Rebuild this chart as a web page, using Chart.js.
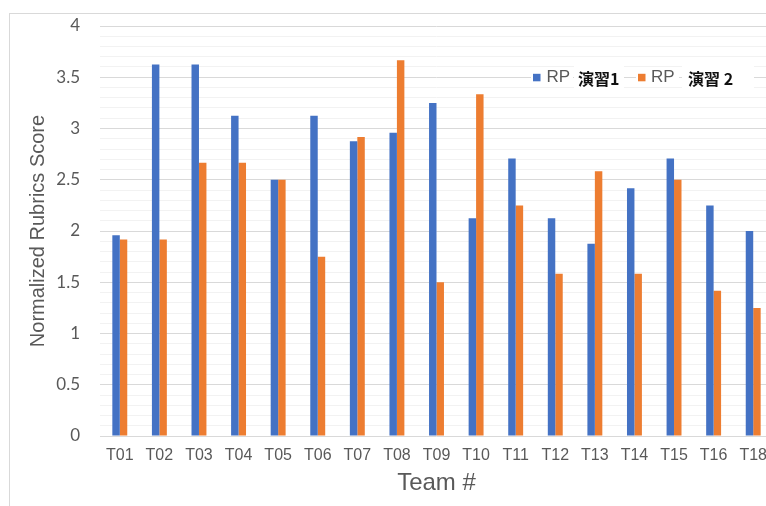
<!DOCTYPE html>
<html><head><meta charset="utf-8">
<script src="https://cdn.jsdelivr.net/npm/chart.js@4/dist/chart.umd.min.js"></script>
<style>
html,body{margin:0;padding:0;background:#fff;overflow:hidden;width:766px;height:506px;}
#frame{position:absolute;left:9px;top:13px;border-left:1px solid #d9d9d9;border-top:1px solid #d9d9d9;width:800px;height:520px;background:#fff;}
canvas{display:block;}
</style></head><body>
<div id="frame"><canvas id="c" width="767" height="510"></canvas></div>
<script>
// ---- data ----
const categories = ['T01','T02','T03','T04','T05','T06','T07','T08','T09','T10','T11','T12','T13','T14','T15','T16','T18'];
const seriesLabels = ['RP 演習1', 'RP 演習 2'];
const exercise1 = [1.958, 3.625, 3.625, 3.125, 2.5, 3.125, 2.875, 2.958, 3.25, 2.125, 2.708, 2.125, 1.875, 2.417, 2.708, 2.25, 2.0];
const exercise2 = [1.917, 1.917, 2.667, 2.667, 2.5, 1.75, 2.917, 3.667, 1.5, 3.333, 2.25, 1.583, 2.583, 1.583, 2.5, 1.417, 1.25];
const yTickLabels = ['0','0.5','1','1.5','2','2.5','3','3.5','4'];
const xTitle = 'Team #';
const yTitle = 'Normalized Rubrics Score';

const colors = ['#4472C4', '#ED7D31'];
const majorLabel = v => yTickLabels.find(l => Math.abs(parseFloat(l) - v) < 1e-6);

const splitLegend = {
  id: 'splitLegend',
  afterDraw(chart) {
    const ctx = chart.ctx;
    const layout = [
      {sq: 523, rp: 536.5, rest: 568, boxA: [521, 563], boxB: [564, 614]},
      {sq: 628, rp: 641, rest: 678, boxA: [626, 669], boxB: [672, 744]}
    ];
    const cy = 63.5;
    ctx.save();
    chart.data.datasets.forEach((ds, i) => {
      const L = layout[i];
      const parts = ds.label.split(' ');
      const head = parts[0];
      const rest = parts.slice(1).join(' ');
      ctx.fillStyle = '#ffffff';
      ctx.fillRect(L.boxA[0], 56, L.boxA[1] - L.boxA[0], 16);
      ctx.fillRect(L.boxB[0], 48, L.boxB[1] - L.boxB[0], 32);
      ctx.fillStyle = ds.backgroundColor;
      ctx.fillRect(L.sq, cy - 3.7, 7.5, 7.5);
      ctx.textBaseline = 'middle';
      ctx.textAlign = 'left';
      ctx.fillStyle = '#595959';
      ctx.font = '17px "Liberation Sans", Arial, sans-serif';
      ctx.fillText(head, L.rp, cy);
      ctx.fillStyle = '#111111';
      ctx.font = 'bold 16px "Noto Sans CJK JP", sans-serif';
      ctx.fillText(rest, L.rest, cy + 1);
    });
    ctx.restore();
  }
};

new Chart(document.getElementById('c'), {
  type: 'bar',
  data: {
    labels: categories,
    datasets: [
      {label: seriesLabels[0], data: exercise1, backgroundColor: colors[0], borderWidth: 0},
      {label: seriesLabels[1], data: exercise2, backgroundColor: colors[1], borderWidth: 0}
    ]
  },
  options: {
    responsive: false,
    animation: false,
    devicePixelRatio: 1,
    layout: {padding: {top: 0, left: 0, right: 0, bottom: 0}},
    datasets: {bar: {categoryPercentage: 0.377, barPercentage: 1.0}},
    plugins: {legend: {display: false}, tooltip: {enabled: false}},
    scales: {
      x: {
        grid: {display: false, drawTicks: false},
        border: {display: false},
        ticks: {color: '#595959', font: {family: '"Liberation Sans", Arial, sans-serif', size: 16}, padding: 10, maxRotation: 0, autoSkip: false},
        title: {display: true, text: xTitle, color: '#595959', font: {family: '"Liberation Sans", Arial, sans-serif', size: 24}, padding: {top: 0, bottom: 26}},
        afterFit(s) { s.height = 88; }
      },
      y: {
        min: 0, max: 4,
        grid: {
          drawTicks: false,
          color: c => majorLabel(c.tick.value) !== undefined ? '#d9d9d9' : '#f2f2f2',
          lineWidth: 1
        },
        border: {display: false},
        ticks: {
          stepSize: 0.1, maxTicksLimit: 100, autoSkip: false, padding: 20,
          color: '#595959', font: {family: 'Lato, "Open Sans", sans-serif', size: 17},
          callback: v => majorLabel(v) ?? ''
        },
        title: {display: true, text: yTitle, color: '#595959', font: {family: '"Liberation Sans", Arial, sans-serif', size: 20}, padding: {top: 16, bottom: 0}},
        afterFit(s) { s.width = 90; s.paddingTop = 12; s.paddingBottom = 0; }
      }
    }
  },
  plugins: [splitLegend]
});
</script>
</body></html>
